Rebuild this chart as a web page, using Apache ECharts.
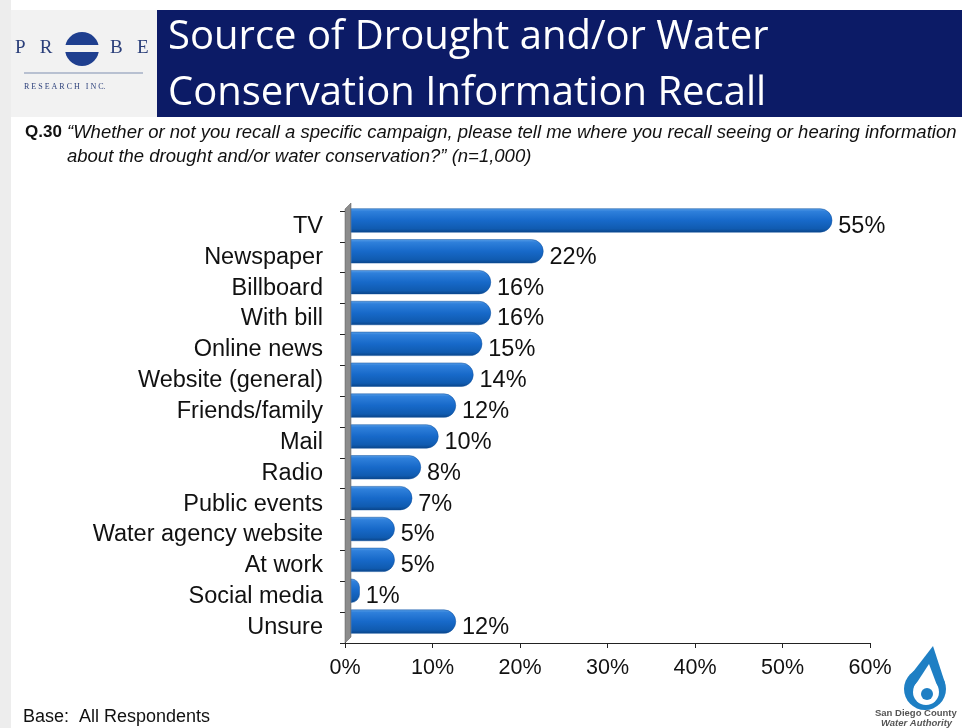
<!DOCTYPE html>
<html><head><meta charset="utf-8">
<script src="https://cdn.jsdelivr.net/npm/echarts@6/dist/echarts.min.js"></script>
<style>html,body{margin:0;padding:0;background:#fff}#c{width:962px;height:728px}</style>
</head><body><div id="c"></div>
<script>
const categories = ['TV','Newspaper','Billboard','With bill','Online news','Website (general)','Friends/family','Mail','Radio','Public events','Water agency website','At work','Social media','Unsure'];
const values = [55,22,16,16,15,14,12,10,8,7,5,5,1,12];
const xTicks = [0,10,20,30,40,50,60];
const titleLines = ['Source of Drought and/or Water','Conservation Information Recall'];
const question = '\u201cWhether or not you recall a specific campaign, please tell me where you recall seeing or hearing information';
const question2 = 'about the drought and/or water conservation?\u201d (n=1,000)';

(function () {
const chart = echarts.init(document.getElementById('c'));
const sans = '"Liberation Sans", Arial, sans-serif';
function txt(x, y, text, fill, font) {
  return {type: 'text', x: x, y: y, style: {text: text, fill: fill, font: font, verticalAlign: 'top', align: 'left'}, silent: true};
}
const xMin = xTicks[0], xMax = xTicks[xTicks.length - 1];
const option = {
  backgroundColor: '#fff',
  animation: false,
  grid: [
    {left: 345, right: 92, top: 211, bottom: 85, containLabel: false},
    {left: 351, right: 86, top: 205, bottom: 91, containLabel: false}
  ],
  xAxis: [{
    gridIndex: 0, type: 'value', min: xMin, max: xMax, interval: 10,
    axisLine: {show: true, lineStyle: {color: '#222', width: 1}},
    axisTick: {show: true, length: 5, lineStyle: {color: '#222'}},
    splitLine: {show: false},
    axisLabel: {formatter: v => v + '%', color: '#111', fontSize: 21.5, margin: 14, fontFamily: sans}
  }, {
    gridIndex: 1, type: 'value', min: xMin, max: xMax, interval: 10, show: false, splitLine: {show: false}
  }],
  yAxis: [{
    gridIndex: 0, type: 'category', data: categories, inverse: true,
    axisLine: {show: true, lineStyle: {color: '#222'}},
    axisTick: {show: true, length: 5, inside: false, interval: 0, lineStyle: {color: '#222'}},
    axisLabel: {color: '#111', fontSize: 23.5, margin: 22, interval: 0, hideOverlap: false, fontFamily: sans}
  }, {
    gridIndex: 1, type: 'category', data: categories, inverse: true, show: false
  }],
  series: [{
    type: 'bar', xAxisIndex: 1, yAxisIndex: 1, data: values, barWidth: 24, z: 3,
    itemStyle: {
      borderRadius: [0, 12, 12, 0],
      color: {type: 'linear', x: 0, y: 0, x2: 0, y2: 1, colorStops: [
        {offset: 0, color: '#5aa0e8'},
        {offset: 0.12, color: '#2f80db'},
        {offset: 0.5, color: '#1769c9'},
        {offset: 0.85, color: '#105bb0'},
        {offset: 1, color: '#0a4488'}
      ]},
      borderColor: '#0d4f9c', borderWidth: 0.5
    },
    label: {show: true, position: 'right', distance: 6, offset: [0, 6], formatter: p => p.value + '%', color: '#111', fontSize: 23.5, fontFamily: sans}
  }],
  graphic: [
    {type: 'rect', shape: {x: 0, y: 0, width: 11, height: 728}, style: {fill: '#ededed'}, silent: true},
    {type: 'rect', shape: {x: 11, y: 10, width: 146, height: 107}, style: {fill: '#f2f2f2'}, silent: true},
    {type: 'rect', shape: {x: 157, y: 10, width: 805, height: 107}, style: {fill: '#0c1b66'}, silent: true},
    txt(168, 18, titleLines[0], '#fff', '40px "Open Sans", "Noto Sans", sans-serif'),
    txt(168, 74, titleLines[1], '#fff', '40px "Open Sans", "Noto Sans", sans-serif'),
    txt(15, 39, 'P   R', '#2b3f7a', '19px "Liberation Serif", serif'),
    txt(110, 39, 'B   E', '#2b3f7a', '19px "Liberation Serif", serif'),
    {type: 'circle', shape: {cx: 82, cy: 49, r: 17}, style: {fill: '#1f3f8f'}, silent: true},
    {type: 'rect', shape: {x: 62, y: 45, width: 40, height: 7}, style: {fill: '#f2f2f2'}, silent: true},
    {type: 'line', shape: {x1: 24, y1: 73, x2: 143, y2: 73}, style: {stroke: '#7f8fb0', lineWidth: 1}, silent: true},
    txt(24, 83, 'R E S E A R C H   I N C.', '#2b3f7a', '8px "Liberation Serif", serif'),
    txt(25, 124, 'Q.30', '#111', 'bold 17px ' + sans),
    txt(67, 123, question, '#111', 'italic 18.5px ' + sans),
    txt(67, 147, question2, '#111', 'italic 18.5px ' + sans),
    txt(23, 708, 'Base:  All Respondents', '#111', '18px ' + sans),
    {type: 'circle', shape: {cx: 925, cy: 689, r: 21}, style: {fill: '#1e7fc4'}, silent: true},
    {type: 'polygon', shape: {points: [[933, 646], [906, 681], [945, 683]]}, style: {fill: '#1e7fc4'}, silent: true},
    {type: 'circle', shape: {cx: 926, cy: 692, r: 13}, style: {fill: '#fff'}, silent: true},
    {type: 'polygon', shape: {points: [[929, 664], [914, 687], [938, 688]]}, style: {fill: '#fff'}, silent: true},
    {type: 'circle', shape: {cx: 927, cy: 694, r: 6}, style: {fill: '#1e7fc4'}, silent: true},
    txt(875, 708, 'San Diego County', '#555', 'bold 9.5px ' + sans),
    txt(881, 718, 'Water Authority', '#555', 'bold italic 9.5px ' + sans)
  ]
};
chart.setOption(option);
const p0 = chart.convertToPixel({xAxisIndex: 0, yAxisIndex: 0}, [0, categories[0]]);
const pN = chart.convertToPixel({xAxisIndex: 0, yAxisIndex: 0}, [0, categories[categories.length - 1]]);
const half = (pN[1] - p0[1]) / (categories.length - 1) / 2;
const yTop = p0[1] - half, yBot = pN[1] + half, x0 = p0[0];
chart.setOption({graphic: option.graphic.concat([
  {type: 'polygon', shape: {points: [[x0, yTop - 2], [x0 + 6, yTop - 8], [x0 + 6, yBot - 6], [x0, yBot]]}, style: {fill: '#8c8c8c', stroke: '#555', lineWidth: 0.5}, z: 1, silent: true}
])});
})();
</script></body></html>
